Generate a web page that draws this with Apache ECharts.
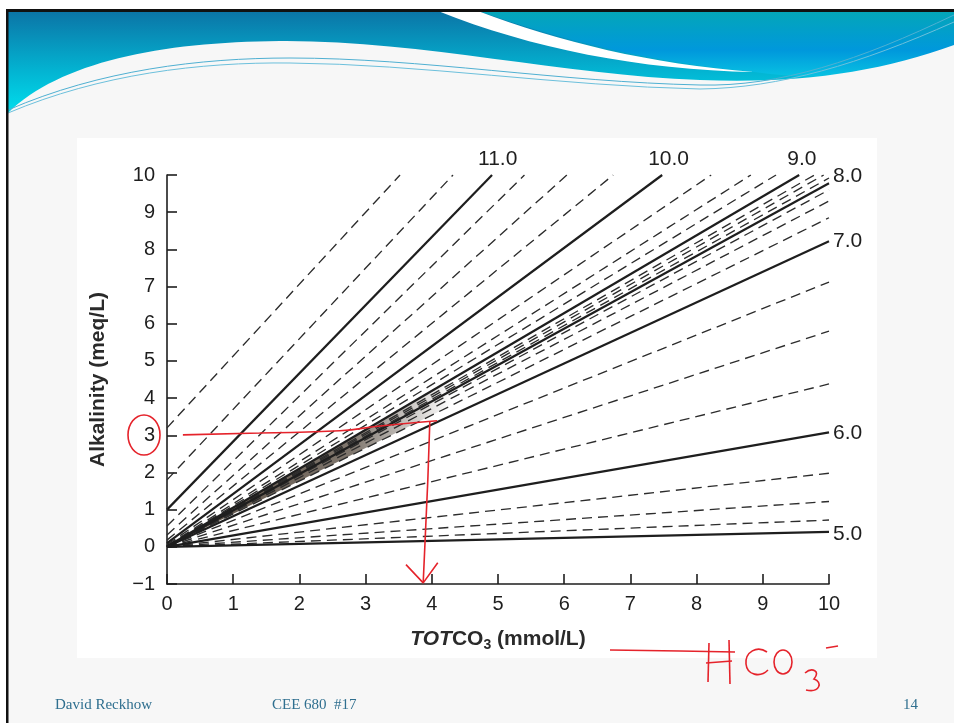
<!DOCTYPE html>
<html>
<head>
<meta charset="utf-8">
<title>Alkalinity vs TOTCO3</title>
<script src="https://cdn.jsdelivr.net/npm/echarts@6/dist/echarts.min.js"></script>
<style>
  html, body { margin: 0; padding: 0; background: #ffffff; }
  #main { width: 954px; height: 723px; }
</style>
</head>
<body>
<div id="main"></div>
<script>
// pH of each line, left to right from the 5.0 line up to the steepest dashed one
const pHValues = [5.0, 5.25, 5.5, 5.75, 6.0, 6.25, 6.5, 6.75, 7.0, 7.25, 7.5, 7.75, 8.0, 8.25,
  8.5, 8.75, 9.0, 9.25, 9.5, 9.75, 10.0, 10.25, 10.5, 10.75, 11.0, 11.25, 11.5];
// alkalinity where each line meets TOTCO3 = 0
const startAlk = [0, 0, 0, 0, 0, 0, 0, 0, 0, 0, 0, 0, 0, 0,
  0, 0, 0.01, 0.02, 0.03, 0.06, 0.10, 0.18, 0.32, 0.56, 1.0, 1.8, 3.2];
// where each line leaves the plot (TOTCO3, alkalinity)
const endTot = [10, 10, 10, 10, 10, 10, 10, 10, 10, 10, 10, 10, 10, 10,
  9.92, 9.78, 9.55, 9.2, 8.82, 8.22, 7.48, 6.74, 6.04, 5.4, 4.91, 4.32, 3.52];
const endAlk = [0.40, 0.72, 1.22, 1.98, 3.08, 4.38, 5.80, 7.12, 8.22, 8.85, 9.30, 9.60, 9.78, 9.92,
  10, 10, 10, 10, 10, 10, 10, 10, 10, 10, 10, 10, 10];

// the crowded lines near the origin print as a dark wedge between these two pH lines
const wedgeLow = 7.25;
const wedgeHigh = 9.0;
const wedgeEnd = 4.3;

// red hand-drawn reading of the chart (alk = 3 -> TOTCO3 ~ 3.9)
const readAcross = [[0.24, 3.01], [1.4, 3.06], [2.61, 3.12], [3.22, 3.25], [4.08, 3.39]];
const readDown = [[3.97, 3.36], [3.94, 1.8], [3.87, -0.97]];
const arrowHead = [[3.61, -0.48], [3.87, -0.97], [4.09, -0.43]];

const FONT = "'Liberation Sans', Arial, Helvetica, sans-serif";
const SERIF = "15px 'Liberation Serif', 'Times New Roman', serif";
const INK = "#1e1e1e";
const RED = "#e5232b";

// label placement for the solid (whole pH) lines
const labelOffsets = {
  "5.0": [2, 2], "6.0": [2, 1], "7.0": [2, 0], "8.0": [2, -7],
  "9.0": [-14, -16], "10.0": [-16, -16], "11.0": [-16, -16]
};

// svg outlines for the slide header and the handwriting
const shapes = {
  hdrRight: "M478,11 L954,11 L954,60 C900,75 820,82 754,72 C650,62 560,40 478,11 Z",
  hdrStripe: "M438,11 L478,11 C560,42 650,64 754,72 C640,70 530,48 438,11 Z",
  hdrWave: "M8,113 C60,62 160,42 280,41 C420,40 560,75 700,80 C800,84 880,72 954,45 L954,136 L8,136 Z",
  hdrLine1: "M8,110 C100,70 200,58 290,58 C420,58 560,82 700,85 C780,87 860,60 954,15",
  hdrLine2: "M8,113 C100,74 200,62 290,63 C420,64 560,86 700,89 C780,88 860,64 954,22",
  penC: "M767,652 C757,645 745,652 746,664 C747,675 760,678 768,670",
  pen3: "M805,673 C812,667 821,671 814,679 C823,682 820,693 806,690",
};
Object.keys(shapes).forEach((k) => {
  echarts.graphic.registerShape(k, echarts.graphic.extendPath(shapes[k], {}));
});

// alkalinity of line i at a given TOTCO3 (straight line between its two ends)
function alkOn(i, tot) {
  return startAlk[i] + ((endAlk[i] - startAlk[i]) * tot) / endTot[i];
}

let series = pHValues.map((ph, i) => {
  let solid = Number.isInteger(ph);
  let name = ph.toFixed(1);
  let s = {
    type: "line",
    name: "pH " + ph,
    data: [[0, startAlk[i]], [endTot[i], endAlk[i]]],
    showSymbol: false,
    symbol: "none",
    silent: true,
    animation: false,
    z: solid ? 4 : 3,
    lineStyle: solid
      ? { color: INK, width: 2.2, type: "solid" }
      : { color: "#2c2c2c", width: 1.35, type: [10, 6] },
  };
  if (solid) {
    s.endLabel = {
      show: true,
      formatter: name,
      color: INK,
      fontFamily: FONT,
      fontSize: 21,
      distance: 2,
      offset: labelOffsets[name],
    };
  }
  return s;
});

series.push({
  type: "custom",
  silent: true,
  animation: false,
  z: 2,
  data: [[0]],
  renderItem: (params, api) => {
    let lo = pHValues.indexOf(wedgeLow);
    let hi = pHValues.indexOf(wedgeHigh);
    let pts = [
      api.coord([0, alkOn(lo, 0)]),
      api.coord([wedgeEnd, alkOn(lo, wedgeEnd)]),
      api.coord([wedgeEnd, alkOn(hi, wedgeEnd)]),
      api.coord([0, alkOn(hi, 0)]),
    ];
    return {
      type: "polygon",
      shape: { points: pts },
      style: {
        fill: new echarts.graphic.LinearGradient(0, 0, 1, 0, [
          { offset: 0, color: "rgba(78,66,54,0.95)" },
          { offset: 0.65, color: "rgba(84,72,60,0.75)" },
          { offset: 1, color: "rgba(90,80,70,0)" },
        ]),
      },
    };
  },
});

[readAcross, readDown, arrowHead].forEach((pts, i) => {
  series.push({
    type: "line", data: pts, showSymbol: false, symbol: "none", smooth: i === 0,
    silent: true, animation: false, z: 10,
    lineStyle: { color: RED, width: 1.6 },
  });
});

let chart = echarts.init(document.getElementById("main"), null, { renderer: "canvas" });

let pen = { fill: null, stroke: RED, lineWidth: 1.6 };

let options = {
  backgroundColor: "#ffffff",
  animation: false,
  grid: { left: 167, right: 125, top: 175, bottom: 139 },
  xAxis: {
    type: "value",
    min: 0,
    max: 10,
    interval: 1,
    name: "{i|TOT}{b|CO}{s|3}{b| (mmol/L)}",
    nameLocation: "middle",
    nameGap: 42,
    nameTextStyle: {
      rich: {
        i: { fontFamily: FONT, fontSize: 21, fontWeight: "bold", fontStyle: "italic", color: "#2a2a2a" },
        b: { fontFamily: FONT, fontSize: 21, fontWeight: "bold", color: "#2a2a2a" },
        s: { fontFamily: FONT, fontSize: 14, fontWeight: "bold", color: "#2a2a2a", padding: [12, 0, 0, 0] },
      },
    },
    axisLine: { show: true, onZero: false, lineStyle: { color: INK, width: 1.6 } },
    axisTick: { show: true, inside: true, length: 10, lineStyle: { color: INK, width: 1.6 } },
    axisLabel: { color: INK, fontFamily: FONT, fontSize: 20, margin: 10 },
    splitLine: { show: false },
  },
  yAxis: {
    type: "value",
    min: -1,
    max: 10,
    interval: 1,
    name: "Alkalinity (meq/L)",
    nameLocation: "middle",
    nameGap: 58,
    nameRotate: 90,
    nameTextStyle: { fontFamily: FONT, fontSize: 21, fontWeight: "bold", color: "#2a2a2a" },
    axisLine: { show: true, lineStyle: { color: INK, width: 1.6 } },
    axisTick: { show: true, inside: true, length: 10, lineStyle: { color: INK, width: 1.6 } },
    axisLabel: {
      color: INK, fontFamily: FONT, fontSize: 20, margin: 12,
      formatter: (v) => (v < 0 ? "\u2212" + Math.abs(v) : String(v)),
    },
    splitLine: { show: false },
  },
  graphic: [
    // slide background and the white figure box
    { type: "rect", z: -30, silent: true, shape: { x: 0, y: 0, width: 954, height: 723 }, style: { fill: "#f7f7f7" } },
    { type: "rect", z: -29, silent: true, shape: { x: 0, y: 0, width: 954, height: 9 }, style: { fill: "#ffffff" } },
    { type: "rect", z: -29, silent: true, shape: { x: 0, y: 0, width: 6, height: 723 }, style: { fill: "#ffffff" } },
    { type: "rect", z: -28, silent: true, shape: { x: 77, y: 138, width: 800, height: 520 }, style: { fill: "#ffffff" } },
    // header band
    {
      type: "rect", z: -27, silent: true,
      shape: { x: 8, y: 11, width: 946, height: 110 },
      style: {
        fill: new echarts.graphic.LinearGradient(0, 0, 0, 1, [
          { offset: 0, color: "#0b74a6" }, { offset: 0.55, color: "#03b4d2" }, { offset: 1, color: "#00e6f2" },
        ]),
      },
    },
    {
      type: "hdrRight", z: -26, silent: true,
      style: {
        fill: new echarts.graphic.LinearGradient(0, 0, 0, 1, [
          { offset: 0, color: "#04a6b8" }, { offset: 0.6, color: "#0098dc" }, { offset: 1, color: "#08c2e2" },
        ]),
      },
    },
    { type: "hdrStripe", z: -25, silent: true, style: { fill: "#ffffff" } },
    { type: "hdrWave", z: -24, silent: true, style: { fill: "#f7f7f7" } },
    { type: "hdrLine1", z: -23, silent: true, style: { fill: null, stroke: "#4fb0d2", lineWidth: 1 } },
    { type: "hdrLine2", z: -23, silent: true, style: { fill: null, stroke: "#6cc0dc", lineWidth: 1 } },
    // slide frame
    { type: "rect", z: -20, silent: true, shape: { x: 6, y: 9, width: 948, height: 3 }, style: { fill: "#111111" } },
    { type: "rect", z: -20, silent: true, shape: { x: 6, y: 9, width: 2.5, height: 714 }, style: { fill: "#111111" } },
    // footer
    { type: "text", z: 5, silent: true, x: 55, y: 698, style: { text: "David Reckhow", fill: "#2f6f8f", font: SERIF } },
    { type: "text", z: 5, silent: true, x: 272, y: 698, style: { text: "CEE 680  #17", fill: "#2f6f8f", font: SERIF } },
    { type: "text", z: 5, silent: true, x: 903, y: 698, style: { text: "14", fill: "#2f6f8f", font: SERIF } },
    // red marks drawn on the slide
    { type: "ellipse", z: 20, silent: true, shape: { cx: 144, cy: 435, rx: 16, ry: 20 }, style: pen },
    { type: "polyline", z: 20, silent: true, shape: { points: [[610, 650], [680, 651], [735, 652]] }, style: pen },
    { type: "polyline", z: 20, silent: true, shape: { points: [[709, 643], [708, 682]] }, style: pen },
    { type: "polyline", z: 20, silent: true, shape: { points: [[729, 640], [730, 684]] }, style: pen },
    { type: "polyline", z: 20, silent: true, shape: { points: [[706, 663], [732, 661]] }, style: pen },
    { type: "penC", z: 20, silent: true, style: pen },
    { type: "ellipse", z: 20, silent: true, shape: { cx: 783, cy: 662, rx: 9, ry: 12 }, style: pen },
    { type: "pen3", z: 20, silent: true, style: pen },
    { type: "polyline", z: 20, silent: true, shape: { points: [[826, 648], [838, 646]] }, style: pen },
  ],
  series: series,
};

chart.setOption(options);
</script>
</body>
</html>
